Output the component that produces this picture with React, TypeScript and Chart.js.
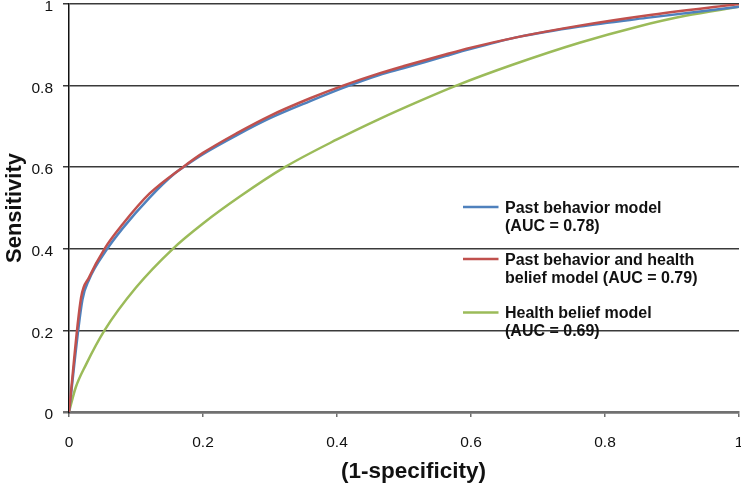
import React, { useEffect, useRef } from 'react';
import { Chart, registerables } from 'chart.js';

Chart.register(...registerables);

// Axis ticks
const xTicks = [0, 0.2, 0.4, 0.6, 0.8, 1];
const yTicks = [0, 0.2, 0.4, 0.6, 0.8, 1];

// Past behavior model (AUC = 0.78)
const pastX = [0, 0.02, 0.03, 0.055, 0.08, 0.12, 0.158, 0.175, 0.2, 0.25, 0.3, 0.36, 0.41, 0.463, 0.5, 0.563, 0.6, 0.673, 0.762, 0.862, 1];
const pastY = [0, 0.275, 0.325, 0.395, 0.45, 0.525, 0.585, 0.605, 0.632, 0.678, 0.72, 0.762, 0.795, 0.826, 0.843, 0.873, 0.89, 0.92, 0.945, 0.966, 0.993];

// Past behavior and health belief model (AUC = 0.79)
const bothX = [0, 0.018, 0.03, 0.053, 0.08, 0.12, 0.17, 0.2, 0.25, 0.3, 0.36, 0.409, 0.463, 0.5, 0.563, 0.6, 0.673, 0.762, 0.862, 1];
const bothY = [0, 0.28, 0.33, 0.4, 0.46, 0.535, 0.6, 0.635, 0.683, 0.726, 0.769, 0.8, 0.83, 0.848, 0.877, 0.893, 0.92, 0.947, 0.972, 1.0];

// Health belief model (AUC = 0.69)
const healthX = [0, 0.01, 0.025, 0.053, 0.1, 0.155, 0.2, 0.255, 0.322, 0.4, 0.463, 0.523, 0.578, 0.662, 0.762, 0.85, 0.92, 1];
const healthY = [0, 0.06, 0.115, 0.2, 0.305, 0.4, 0.462, 0.528, 0.6, 0.668, 0.718, 0.762, 0.8, 0.851, 0.905, 0.945, 0.971, 0.993];

const legendLabels = [
  ['Past behavior model', '(AUC = 0.78)'],
  ['Past behavior and health', 'belief model (AUC = 0.79)'],
  ['Health belief model', '(AUC = 0.69)'],
];
const xTitle = '(1-specificity)';
const yTitle = 'Sensitivity';
const colors = ['#4F81BD', '#C0504D', '#9BBB59'];

const toPoints = (xs: number[], ys: number[]) => xs.map((x, i) => ({ x, y: ys[i] }));

const FAMILY = '"Liberation Sans", Arial, sans-serif';

const overlayPlugin = {
  id: 'rocOverlay',
  afterDatasetsDraw(chart: any) {
    const ctx = chart.ctx;
    const lineYs = [207, 259, 312.5];
    ctx.save();
    legendLabels.forEach((lines, i) => {
      const ly = lineYs[i];
      ctx.strokeStyle = colors[i];
      ctx.lineWidth = 2.5;
      ctx.beginPath();
      ctx.moveTo(463, ly);
      ctx.lineTo(498.5, ly);
      ctx.stroke();
      ctx.fillStyle = '#111';
      ctx.font = 'bold 16px ' + FAMILY;
      ctx.textBaseline = 'alphabetic';
      ctx.textAlign = 'left';
      lines.forEach((t, j) => {
        ctx.fillText(t, 505, ly + 5.5 + j * 18);
      });
    });
    // x-axis title
    ctx.font = 'bold 22.5px ' + FAMILY;
    ctx.textAlign = 'center';
    ctx.textBaseline = 'middle';
    ctx.fillStyle = '#111';
    ctx.fillText(xTitle, 413.5, 472);
    ctx.restore();
  },
};

export default function App() {
  const ref = useRef<HTMLCanvasElement>(null);
  useEffect(() => {
    if (!ref.current) return;
    const tickFont = { family: FAMILY, size: 15.5 };
    const titleFont = { family: FAMILY, size: 22, weight: 'bold' as const };
    const common = (data: any, i: number, order: number) => ({
      data,
      borderColor: colors[i],
      backgroundColor: colors[i],
      borderWidth: 2.5,
      pointRadius: 0,
      showLine: true,
      fill: false,
      cubicInterpolationMode: 'monotone' as const,
      order,
    });
    const chart = new Chart(ref.current, {
      type: 'scatter',
      data: {
        datasets: [
          { label: legendLabels[0].join(' '), ...common(toPoints(pastX, pastY), 0, 1) },
          { label: legendLabels[1].join(' '), ...common(toPoints(bothX, bothY), 1, 0) },
          { label: legendLabels[2].join(' '), ...common(toPoints(healthX, healthY), 2, 2) },
        ],
      },
      options: {
        responsive: false,
        animation: false,
        layout: { padding: { top: 4, right: 2, left: 0, bottom: 0 } },
        plugins: { legend: { display: false }, tooltip: { enabled: false } },
        scales: {
          x: {
            type: 'linear',
            min: 0,
            max: 1,
            afterBuildTicks: (s: any) => { s.ticks = xTicks.map((v) => ({ value: v })); },
            afterFit: (s: any) => {
              s.height = 73;
              s.paddingLeft = 0; s.paddingRight = 0; s.paddingTop = 0; s.paddingBottom = 0;
            },
            ticks: {
              font: tickFont,
              color: '#111',
              padding: 16,
              maxRotation: 0,
              autoSkip: false,
              callback: (v: any) => String(v),
            },
            grid: {
              display: true,
              drawOnChartArea: false,
              drawTicks: true,
              tickLength: 5,
              color: '#6e6e6e',
              lineWidth: 1.5,
            },
            border: { display: true, color: '#707070', width: 2.5 },
            title: { display: false },
          },
          y: {
            type: 'linear',
            min: 0,
            max: 1,
            afterBuildTicks: (s: any) => { s.ticks = yTicks.map((v) => ({ value: v })); },
            afterFit: (s: any) => {
              s.width = 69;
              s.paddingLeft = 0; s.paddingRight = 0; s.paddingTop = 0; s.paddingBottom = 0;
            },
            ticks: {
              font: tickFont,
              color: '#111',
              padding: 10,
              labelOffset: 3,
              autoSkip: false,
              callback: (v: any) => String(v),
            },
            grid: {
              display: true,
              drawTicks: true,
              tickLength: 6,
              color: (c: any) => (c.tick && c.tick.value === 0 ? '#707070' : '#3a3a3a'),
              lineWidth: (c: any) => (c.tick && c.tick.value === 0 ? 2.5 : 1.5),
            },
            border: { display: true, color: '#111', width: 1.5 },
            title: { display: true, text: yTitle, font: titleFont, color: '#111', padding: { top: 2, bottom: 0 } },
          },
        },
      },
      plugins: [overlayPlugin],
    });
    return () => chart.destroy();
  }, []);
  return (
    <div style={{ position: 'absolute', left: 0, top: 0, width: 741, height: 485, background: '#fff' }}>
      <canvas ref={ref} width={741} height={485} style={{ display: 'block' }} />
    </div>
  );
}
